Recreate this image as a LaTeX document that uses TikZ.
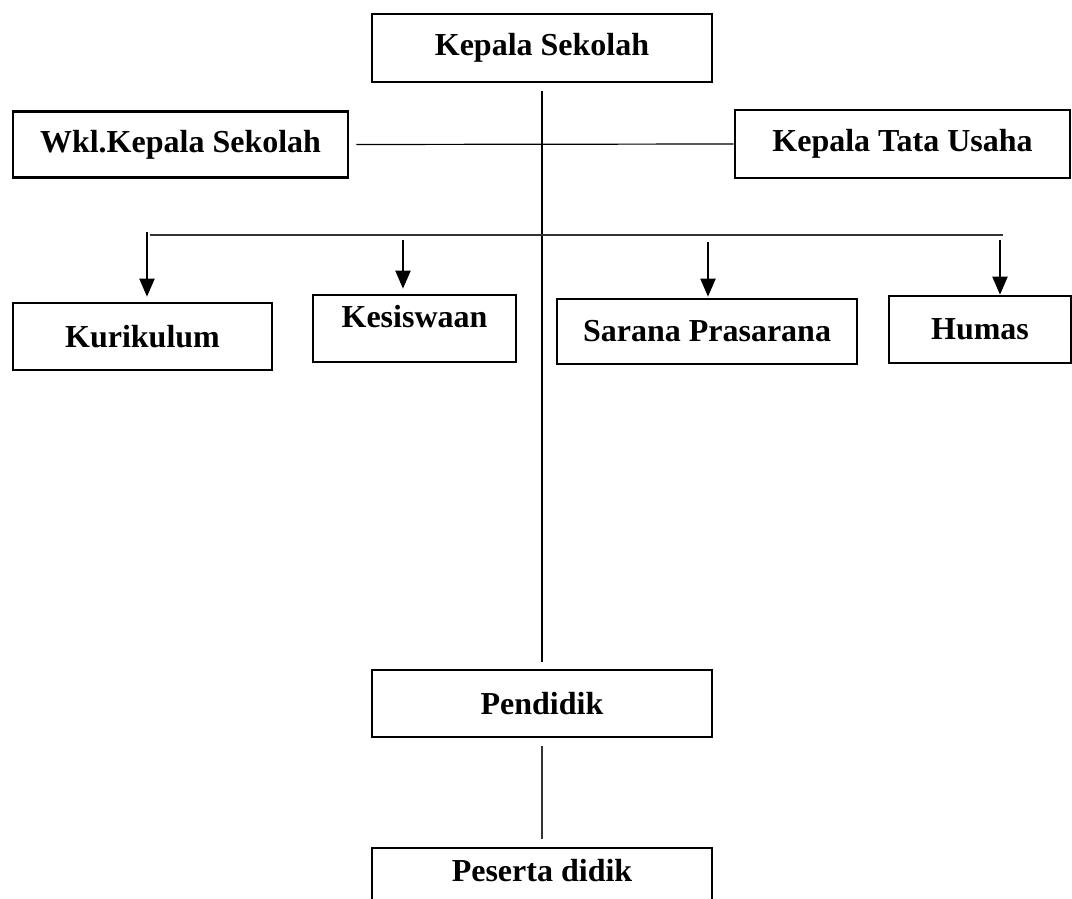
\documentclass[tikz,border=0pt]{standalone}
\usepackage{fontspec}
\setmainfont{Liberation Serif}
\usetikzlibrary{arrows.meta, positioning}

\begin{document}
\begin{tikzpicture}[x=0.5pt, y=-0.5pt,
    kotak/.style={draw, line width=1.3pt, inner sep=0pt, font=\fontsize{16}{19}\selectfont},
    garis/.style={line width=0.6pt},
    panah/.style={line width=1pt, -{Triangle[length=9pt, width=7.5pt]}, shorten >=1.5pt}]
\useasboundingbox (0,0) rectangle (1072,899);
\clip (0,0) rectangle (1072,899);
                \node[kotak, minimum width=170pt, minimum height=34pt] (kepsek) at (542,48) {\textbf{Kepala Sekolah}};
                \node[kotak, minimum width=167.5pt, minimum height=33pt] (wakasek) at (180.5,144.5) {\textbf{Wkl.Kepala Sekolah}};
                \node[kotak, minimum width=167.5pt, minimum height=34pt] (katu) at (902.5,144) {\textbf{Kepala Tata Usaha}};
                \node[kotak, minimum width=129.5pt, minimum height=33.5pt] (kurikulum) at (142.5,336.5) {\textbf{Kurikulum}};
                \node[kotak, minimum width=101.5pt, minimum height=33.5pt, text height=11pt, text depth=12.5pt] (kesiswaan) at (414.5,328.5) {\textbf{Kesiswaan}};
                \node[kotak, minimum width=150pt, minimum height=32.5pt] (sarpras) at (707,331.5) {\textbf{Sarana Prasarana}};
                \node[kotak, minimum width=91pt, minimum height=33.5pt] (humas) at (980,329.5) {\textbf{Humas}};
                \node[kotak, minimum width=170pt, minimum height=33.5pt] (pendidik) at (542,703.5) {\textbf{Pendidik}};
                \node[kotak, minimum width=170pt, minimum height=36pt, text height=11pt, text depth=14pt] (peserta) at (542,884) {\textbf{Peserta didik}};

                \coordinate (cabkiri) at (150,235);
                \coordinate (cabkanan) at (1003,235);
                \coordinate (p1) at (147,232);
                \coordinate (p2) at (403,240);
                \coordinate (p3) at (708,242);
                \coordinate (p4) at (1000,240);

                \draw[garis, shorten <=4pt, shorten >=3.5pt] (kepsek.south) -- (pendidik.north);
                \draw[garis, shorten <=3.5pt] (wakasek.east) -- (katu.west);
                \draw[line width=0.9pt, black!80] (cabkiri) -- (cabkanan);
                \draw[panah, shorten >=2.5pt] (p1) -- (p1 |- kurikulum.north);
                \draw[panah, shorten >=2.5pt] (p2) -- (p2 |- kesiswaan.north);
                \draw[panah, shorten >=0.5pt] (p3) -- (p3 |- sarpras.north);
                \draw[panah, shorten >=0pt] (p4) -- (p4 |- humas.north);
                \draw[garis, black!80, shorten <=4pt, shorten >=4pt] (pendidik.south) -- (peserta.north);
            \end{tikzpicture}
\end{document}
